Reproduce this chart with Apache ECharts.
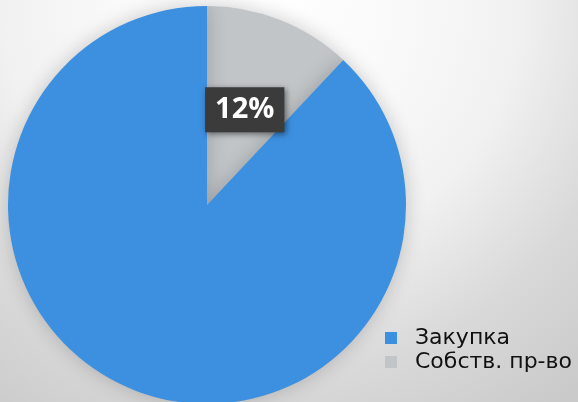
<!DOCTYPE html>
<html><head><meta charset="utf-8">
<script src="https://cdn.jsdelivr.net/npm/echarts@6/dist/echarts.min.js"></script>
<style>html,body{margin:0;padding:0;}#c{width:578px;height:402px;}</style>
</head><body><div id="c"></div>
<script>
const categories = ['Собств. пр-во', 'Закупка'];
const values = [12, 88];
const legendOrder = ['Закупка', 'Собств. пр-во'];
const colors = {'Закупка': '#3d8fdf', 'Собств. пр-во': '#c1c5c8'};

const chart = echarts.init(document.getElementById('c'), null, {renderer: 'canvas'});
chart.setOption({
  backgroundColor: {
    type: 'radial', x: 260, y: 0, r: 500, global: true,
    colorStops: [
      {offset: 0, color: '#ffffff'}, {offset: 0.3, color: '#f9f9f9'},
      {offset: 0.52, color: '#f1f1f1'}, {offset: 0.64, color: '#e5e5e5'},
      {offset: 0.76, color: '#d9d9d9'}, {offset: 1, color: '#cacaca'}
    ]
  },
  animation: false,
  legend: {
    orient: 'vertical', left: 380, top: 321,
    itemWidth: 12, itemHeight: 12, itemGap: 0,
    icon: 'rect',
    data: legendOrder,
    textStyle: {fontFamily: 'DejaVu Sans', fontSize: 22, color: '#111', lineHeight: 24, padding: [0, 0, 0, 13]}
  },
  series: [{
    type: 'pie',
    center: [207, 205], radius: 199,
    startAngle: 90, clockwise: true,
    silent: true,
    labelLine: {show: false},
    itemStyle: {shadowBlur: 20, shadowColor: 'rgba(0,0,0,0.2)', borderWidth: 0},
    data: categories.map((c, i) => ({
      name: c, value: values[i],
      itemStyle: {color: colors[c]},
      label: i === 0 ? {
        show: true, position: 'inside',
        formatter: v => Math.round(v.percent) + '%',
        color: '#fff', fontFamily: 'Open Sans', fontWeight: 'bold', fontSize: 29,
        backgroundColor: '#3b3b3b', padding: [8, 10, 8, 10],
        shadowBlur: 6, shadowColor: 'rgba(0,0,0,0.5)', shadowOffsetX: 2, shadowOffsetY: 2
      } : {show: false}
    }))
  }]
});
</script></body></html>
